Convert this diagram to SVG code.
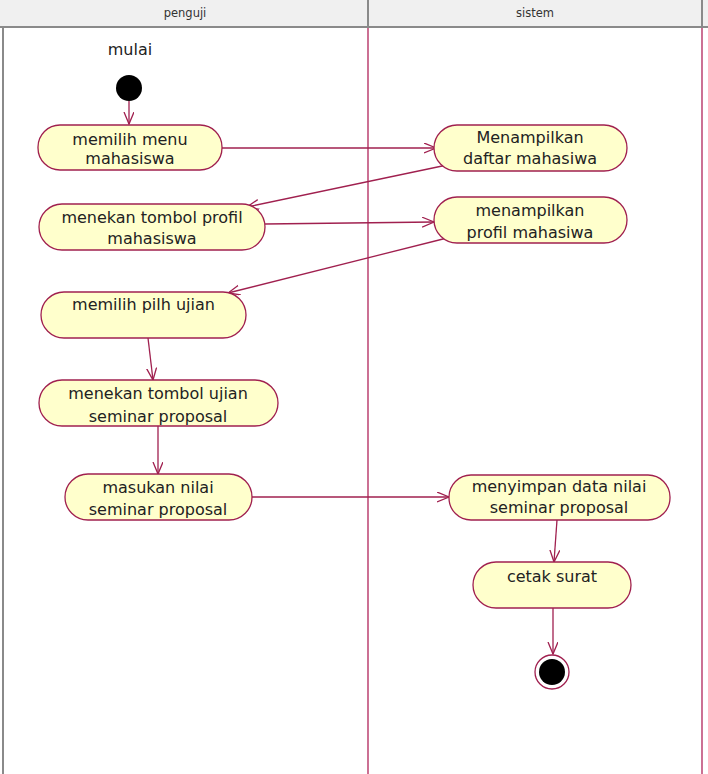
<svg xmlns="http://www.w3.org/2000/svg" width="708" height="774" viewBox="0 0 708 774">
<style>
.hdr{fill:#f0f0f0}
.hl{stroke:#8a8a8a;stroke-width:2;fill:none}
.lane{stroke:#b0245a;stroke-width:1.3;fill:none}
.node{fill:#ffffcc;stroke:#a0204f;stroke-width:1.3}
.t{font-family:"DejaVu Sans",sans-serif;font-size:16px;fill:#222;text-anchor:middle}
.ht{font-family:"DejaVu Sans",sans-serif;font-size:11.5px;fill:#333;text-anchor:middle}
.c{stroke:#a0204f;stroke-width:1.3;fill:none;marker-end:url(#arr)}
</style>
<defs>
<marker id="arr" markerUnits="userSpaceOnUse" markerWidth="14" markerHeight="12" refX="12" refY="5" orient="auto">
<path d="M0,0 L12,5 L0,10" fill="none" stroke="#a0204f" stroke-width="1.3"/>
</marker>
</defs>
<rect width="708" height="774" fill="#ffffff"/>
<g id="swimlanes">
<rect class="hdr" x="0" y="0" width="708" height="26"/>
<line class="hl" x1="0" y1="27" x2="708" y2="27"/>
<line class="hl" x1="368" y1="0" x2="368" y2="27"/>
<line class="hl" x1="702" y1="0" x2="702" y2="27"/>
<line class="hl" x1="3" y1="27" x2="3" y2="774"/>
<line class="lane" x1="368" y1="28" x2="368" y2="774"/>
<line class="lane" x1="702" y1="28" x2="702" y2="774"/>
<text class="ht" x="185" y="17">penguji</text>
<text class="ht" x="535" y="17">sistem</text>
</g>
<g id="connectors">
<path class="c" d="M129,101 L129,124"/>
<path class="c" d="M222,148 L436,148"/>
<path class="c" d="M447,165 L247,207"/>
<path class="c" d="M265,224 L434,222"/>
<path class="c" d="M447,238 L228,293"/>
<path class="c" d="M148,338 L153,380"/>
<path class="c" d="M158,426 L158,474"/>
<path class="c" d="M252,497 L449,497"/>
<path class="c" d="M557,520 L554,562"/>
<path class="c" d="M553,608 L553,654"/>
</g>
<g id="start">
<text class="t" x="130" y="55">mulai</text>
<circle cx="129" cy="88" r="13" fill="#000"/>
</g>
<g id="n1">
<rect class="node" x="38" y="125" width="184" height="45" rx="22"/>
<text class="t" x="130" y="145">memilih menu</text>
<text class="t" x="130" y="164">mahasiswa</text>
</g>
<g id="n2">
<rect class="node" x="434" y="125" width="193" height="46" rx="23"/>
<text class="t" x="530" y="143">Menampilkan</text>
<text class="t" x="530" y="164">daftar mahasiwa</text>
</g>
<g id="n3">
<rect class="node" x="39" y="204" width="226" height="46" rx="23"/>
<text class="t" x="152" y="223">menekan tombol profil</text>
<text class="t" x="152" y="244">mahasiswa</text>
</g>
<g id="n4">
<rect class="node" x="434" y="197" width="193" height="46" rx="23"/>
<text class="t" x="530" y="216">menampilkan</text>
<text class="t" x="530" y="238">profil mahasiwa</text>
</g>
<g id="n5">
<rect class="node" x="41" y="292" width="205" height="46" rx="23"/>
<text class="t" x="143.5" y="310">memilih pilh ujian</text>
</g>
<g id="n6">
<rect class="node" x="39" y="380" width="239" height="46" rx="23"/>
<text class="t" x="158" y="399">menekan tombol ujian</text>
<text class="t" x="158" y="422">seminar proposal</text>
</g>
<g id="n7">
<rect class="node" x="65" y="474" width="187" height="46" rx="23"/>
<text class="t" x="158" y="493">masukan nilai</text>
<text class="t" x="158" y="515">seminar proposal</text>
</g>
<g id="n8">
<rect class="node" x="449" y="475" width="221" height="45" rx="22"/>
<text class="t" x="559" y="492">menyimpan data nilai</text>
<text class="t" x="559" y="513">seminar proposal</text>
</g>
<g id="n9">
<rect class="node" x="473" y="562" width="158" height="46" rx="23"/>
<text class="t" x="552" y="582">cetak surat</text>
</g>
<g id="end">
<circle cx="552" cy="672" r="17" fill="#fff" stroke="#a0204f" stroke-width="1.3"/>
<circle cx="552" cy="672" r="13" fill="#000"/>
</g>
</svg>
